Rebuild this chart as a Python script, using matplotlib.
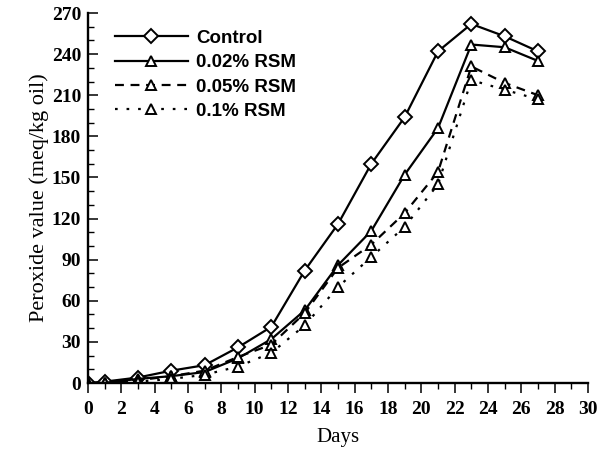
import matplotlib
matplotlib.use("Agg")
import matplotlib.pyplot as plt
from matplotlib.ticker import MultipleLocator

days = [0, 1, 3, 5, 7, 9, 11, 13, 15, 17, 19, 21, 23, 25, 27]
control = [0, 1, 4, 9, 13, 26, 41, 82, 116, 160, 194, 242, 262, 253, 242]
rsm_002 = [0, 0, 3, 5, 8, 18, 32, 53, 86, 111, 152, 186, 247, 245, 235]
rsm_005 = [0, 0, 2, 5, 9, 19, 28, 51, 84, 101, 124, 154, 231, 219, 210]
rsm_01 = [0, 0, 1, 3, 6, 12, 22, 42, 70, 92, 114, 145, 221, 214, 207]
labels = ["Control", "0.02% RSM", "0.05% RSM", "0.1% RSM"]

plt.rcParams["font.family"] = ["Liberation Serif", "DejaVu Serif"]

fig = plt.figure(figsize=(5.97, 4.57), dpi=100)
ax = fig.add_axes([88 / 597, 74 / 457, 500 / 597, 370 / 457])

kw = dict(color="black", lw=1.6, mfc="white", mec="black", mew=1.4)
ax.plot(days, control, "-", marker="D", ms=7.5, label=labels[0], **kw)
ax.plot(days, rsm_002, "-", marker="^", ms=6.5, label=labels[1], **kw)
ax.plot(days, rsm_005, linestyle=(0, (4, 3)), marker="^", ms=6.5, label=labels[2], **kw)
ax.plot(days, rsm_01, linestyle=(0, (1.2, 4)), marker="^", ms=6.5, label=labels[3], **kw)

ax.set_xlim(0, 30)
ax.set_ylim(0, 270)
ax.xaxis.set_major_locator(MultipleLocator(2))
ax.xaxis.set_minor_locator(MultipleLocator(1))
ax.yaxis.set_major_locator(MultipleLocator(30))
ax.yaxis.set_minor_locator(MultipleLocator(10))
ax.tick_params(axis="x", which="major", direction="out", length=7, width=1.1, labelsize=14, pad=6)
ax.tick_params(axis="x", which="minor", direction="out", length=4, width=1.0)
ax.tick_params(axis="y", which="major", direction="in", length=7, width=1.1, labelsize=14, pad=5)
ax.tick_params(axis="y", which="minor", direction="in", length=4, width=1.0)
for lab in ax.get_xticklabels() + ax.get_yticklabels():
    lab.set_fontweight("bold")
for s in ("top", "right"):
    ax.spines[s].set_visible(False)
for s in ("left", "bottom"):
    ax.spines[s].set_linewidth(1.7)
    ax.spines[s].set_clip_on(False)

ax.set_xlabel("Days", fontsize=15, labelpad=7)
ax.set_ylabel("Peroxide value (meq/kg oil)", fontsize=16, labelpad=2)

leg = ax.legend(loc="upper left", bbox_to_anchor=(0.02, 1.0), frameon=False,
                handlelength=3.9, handletextpad=0.45, labelspacing=0.38,
                prop={"family": "Liberation Sans", "weight": "bold", "size": 13.5})

fig.savefig("out.png", dpi=100)
